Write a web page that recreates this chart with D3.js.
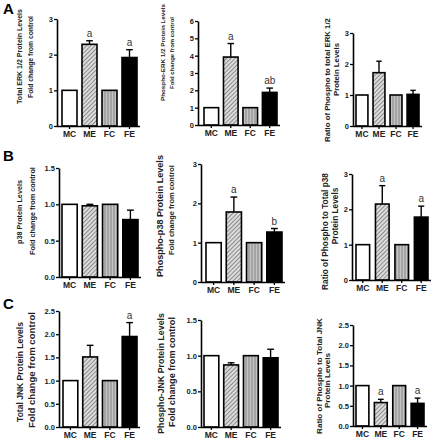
<!DOCTYPE html>
<html><head><meta charset="utf-8">
<script src="https://cdn.jsdelivr.net/npm/d3@7"></script>
<style>body{margin:0;background:#fff}svg{display:block}text{font-family:"Liberation Sans",Arial,sans-serif}</style>
</head><body><svg id="c" width="433" height="440"></svg>
<script>
const categories = ["MC", "ME", "FC", "FE"];
const panelLetters = ["A", "B", "C"];

const totalERK = [1, 2.29, 1, 1.92];
const totalERKErr = [0, 0.1, 0, 0.22];
const totalERKSig = ["", "a", "", "a"];

const phosphoERK = [1, 3.92, 1, 1.88];
const phosphoERKErr = [0, 0.78, 0, 0.25];
const phosphoERKSig = ["", "a", "", "ab"];

const ratioERK = [1, 1.72, 1, 1.02];
const ratioERKErr = [0, 0.37, 0, 0.13];
const ratioERKSig = ["", "", "", ""];

const totalP38 = [1, 0.98, 1, 0.79];
const totalP38Err = [0, 0.02, 0, 0.13];
const totalP38Sig = ["", "", "", ""];

const phosphoP38 = [1, 1.78, 1, 1.27];
const phosphoP38Err = [0, 0.38, 0, 0.09];
const phosphoP38Sig = ["", "a", "", "b"];

const ratioP38 = [1, 2.15, 1, 1.78];
const ratioP38Err = [0, 0.52, 0, 0.31];
const ratioP38Sig = ["", "a", "", "a"];

const totalJNK = [1, 1.51, 1, 1.95];
const totalJNKErr = [0, 0.25, 0, 0.3];
const totalJNKSig = ["", "", "", "a"];

const phosphoJNK = [1, 0.87, 1, 0.97];
const phosphoJNKErr = [0, 0.03, 0, 0.12];
const phosphoJNKSig = ["", "", "", ""];

const ratioJNK = [1, 0.58, 1, 0.56];
const ratioJNKErr = [0, 0.08, 0, 0.13];
const ratioJNKSig = ["", "a", "", "a"];

const yMax = [3, 6, 3, 1.5, 3, 3, 2.5, 1.5, 2.5];
const yStep = [1, 1, 1, 0.5, 1, 1, 0.5, 0.5, 0.5];

const titles = [
  ["Total ERK 1/2 Protein Levels", "Fold change from control"],
  ["Phospho-ERK 1/2 Protein Levels", "Fold change from control"],
  ["Ratio of Phospho to total  ERK 1/2", "Protein Levels"],
  ["p38 Protein Levels", "Fold change from control"],
  ["Phospho-p38 Protein Levels", "Fold change from control"],
  ["Ratio of Phospho to Total p38", "Protein Levels"],
  ["Total JNK Protein Levels", "Fold change from control"],
  ["Phospho-JNK Protein Levels", "Fold change from control"],
  ["Ratio of Phospho to Total JNK", "Protein Levels"]
];

const series = [
  [totalERK, totalERKErr, totalERKSig],
  [phosphoERK, phosphoERKErr, phosphoERKSig],
  [ratioERK, ratioERKErr, ratioERKSig],
  [totalP38, totalP38Err, totalP38Sig],
  [phosphoP38, phosphoP38Err, phosphoP38Sig],
  [ratioP38, ratioP38Err, ratioP38Sig],
  [totalJNK, totalJNKErr, totalJNKSig],
  [phosphoJNK, phosphoJNKErr, phosphoJNKSig],
  [ratioJNK, ratioJNKErr, ratioJNKSig]
];

// layout (pixels): title line x, vertical span [from, to] of each line
const layout = [
  {ax: 57, top: 19, bot: 126, b0: 62, b1: 137, pad: 0.25, tx: [20, 31], ts: [[9, 104], [16, 98]]},
  {ax: 198, top: 21, bot: 125, b0: 204, b1: 277, pad: 0.25, tx: [163, 172], ts: [[4, 101], [17, 89]]},
  {ax: 353, top: 33, bot: 126, b0: 356, b1: 419, pad: 0.3, tx: [327, 336], ts: [[18, 142], [52, 87]], same: true},
  {ax: 59, top: 168, bot: 277, b0: 62, b1: 138, pad: 0.25, tx: [19, 32], ts: [[180, 244], [167, 255]]},
  {ax: 201, top: 164, bot: 282, b0: 206, b1: 282, pad: 0.25, tx: [160, 171], ts: [[155, 277], [165, 255]]},
  {ax: 352, top: 174, bot: 280, b0: 356, b1: 428, pad: 0.3, tx: [325, 335], ts: [[173, 290], [195, 237]], same: true},
  {ax: 59, top: 311, bot: 427, b0: 63, b1: 137, pad: 0.25, tx: [20, 32], ts: [[322, 422], [312, 428]]},
  {ax: 201, top: 320, bot: 427, b0: 204, b1: 278, pad: 0.25, tx: [161, 172], ts: [[313, 434], [317, 427]]},
  {ax: 353, top: 325, bot: 426, b0: 356, b1: 424, pad: 0.3, tx: [319, 327], ts: [[318, 434], [358, 403]], same: true}
];
const letterPos = [[3, 14], [3, 161], [3, 309]];

const svg = d3.select("#c");
const defs = svg.append("defs");
const hatch = defs.append("pattern").attr("id", "hatch").attr("patternUnits", "userSpaceOnUse")
  .attr("width", 3).attr("height", 3).attr("patternTransform", "rotate(45)");
hatch.append("rect").attr("width", 3).attr("height", 3).attr("fill", "#dcdcdc");
hatch.append("line").attr("x1", 0).attr("y1", 0).attr("x2", 0).attr("y2", 3).attr("stroke", "#555").attr("stroke-width", 1.2);
const vstripe = defs.append("pattern").attr("id", "vstripe").attr("patternUnits", "userSpaceOnUse")
  .attr("width", 3).attr("height", 3);
vstripe.append("rect").attr("width", 3).attr("height", 3).attr("fill", "#a4a4a4");
vstripe.append("line").attr("x1", 1.5).attr("y1", 0).attr("x2", 1.5).attr("y2", 3).attr("stroke", "#c4c4c4").attr("stroke-width", 1);
const fills = ["#ffffff", "url(#hatch)", "url(#vstripe)", "#000000"];

panelLetters.forEach((L, i) => {
  svg.append("text").attr("x", letterPos[i][0]).attr("y", letterPos[i][1])
    .attr("font-size", 15).attr("font-weight", "bold").text(L);
});

series.forEach((s, p) => {
  const [vals, errs, sig] = s;
  const lo = layout[p];
  const g = svg.append("g");
  const y = d3.scaleLinear().domain([0, yMax[p]]).range([lo.bot, lo.top]);
  const x = d3.scaleBand().domain(categories).range([lo.b0, lo.b1]).paddingInner(lo.pad).paddingOuter(0);
  const ticks = d3.range(0, yMax[p] + yStep[p] / 2, yStep[p]);
  const fmt = yStep[p] < 1 ? d3.format(".1f") : d3.format("d");

  const yAxis = g.append("g").attr("transform", `translate(${lo.ax},0)`)
    .call(d3.axisLeft(y).tickValues(ticks).tickFormat(fmt).tickSize(3).tickSizeOuter(0));
  yAxis.select(".domain").attr("stroke-width", 1.6);
  yAxis.selectAll(".tick line").attr("stroke-width", 1.3);
  yAxis.selectAll("text").attr("font-size", 7.5).attr("font-weight", "bold").attr("fill", "#222").attr("x", -4)
    .style("font-family", '"Liberation Sans",Arial,sans-serif');

  g.selectAll("rect.bar").data(categories).join("rect").attr("class", "bar")
    .attr("x", d => x(d)).attr("width", x.bandwidth())
    .attr("y", (d, i) => y(vals[i])).attr("height", (d, i) => y(0) - y(vals[i]))
    .attr("fill", (d, i) => fills[i]).attr("stroke", "#000").attr("stroke-width", 1.6);

  const cap = x.bandwidth() * 0.45;
  categories.forEach((c, i) => {
    if (errs[i] > 0) {
      const cx = x(c) + x.bandwidth() / 2;
      g.append("line").attr("x1", cx).attr("x2", cx).attr("y1", y(vals[i])).attr("y2", y(vals[i] + errs[i]))
        .attr("stroke", "#000").attr("stroke-width", 1.4);
      g.append("line").attr("x1", cx - cap / 2).attr("x2", cx + cap / 2)
        .attr("y1", y(vals[i] + errs[i])).attr("y2", y(vals[i] + errs[i]))
        .attr("stroke", "#000").attr("stroke-width", 1.4);
    }
    if (sig[i]) {
      g.append("text").attr("x", x(c) + x.bandwidth() / 2).attr("y", y(vals[i] + errs[i]) - 4)
        .attr("text-anchor", "middle").attr("font-size", 10).attr("fill", "#333").text(sig[i]);
    }
  });

  const xAxis = g.append("g").attr("transform", `translate(0,${lo.bot})`)
    .call(d3.axisBottom(x).tickSize(3).tickSizeOuter(0));
  xAxis.select(".domain").attr("d", `M${lo.ax},0.5H${lo.b1 + 3}`).attr("stroke-width", 1.6);
  xAxis.selectAll(".tick line").attr("stroke-width", 1.3);
  xAxis.selectAll("text").attr("font-size", 8.5).attr("font-weight", "bold").attr("fill", "#222").attr("y", 5)
    .style("font-family", '"Liberation Sans",Arial,sans-serif');

  let firstFs = null;
  titles[p].forEach((t, k) => {
    const [a, b] = lo.ts[k];
    const c = (a + b) / 2;
    const el = svg.append("text")
      .attr("text-anchor", "middle").attr("font-size", 10).attr("font-weight", "bold").attr("fill", "#222").text(t);
    // font size chosen so the line spans the measured extent
    const nat = el.node().getComputedTextLength();
    let fs = 10 * (b - a) / nat;
    if (k === 1 && lo.same) fs = firstFs;
    if (k === 0) firstFs = fs;
    el.attr("font-size", fs)
      .attr("transform", `translate(${lo.tx[k] + fs * 0.35},${c}) rotate(-90)`);
  });
});
</script></body></html>
